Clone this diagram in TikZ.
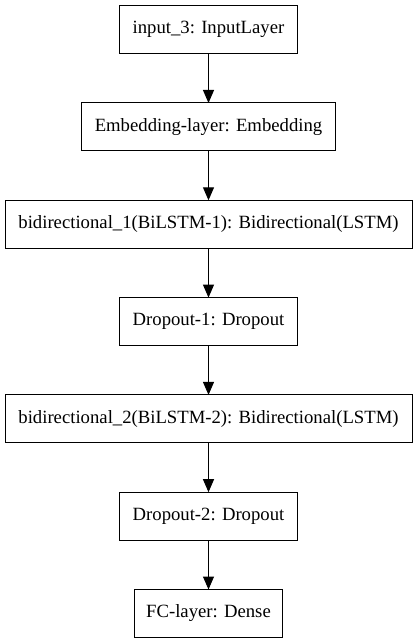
\documentclass[tikz,border=0pt]{standalone}
\usepackage{fontspec}
\setmainfont{Liberation Serif}
\usetikzlibrary{arrows.meta,positioning}
\tikzset{
  layer/.style={draw, rectangle, line width=1pt, minimum height=48pt,
    inner xsep=12pt, outer sep=0pt, font=\fontsize{18.7}{22}\selectfont},
  flow/.style={-{Triangle[width=11pt,length=13pt]}, line width=1pt},
}
\begin{document}
\begin{tikzpicture}[node distance=49.3pt]
  \useasboundingbox (0,0) rectangle (417pt,-644pt);
  \node (input) [layer, minimum width=177.5pt] at (208.5pt,-29.7pt) {input\_3: InputLayer};
  \node (embed) [layer, minimum width=254.7pt, below=of input] {Embedding-layer: Embedding};
  \node (bilstma) [layer, minimum width=407pt, below=of embed] {bidirectional\_1(BiLSTM-1): Bidirectional(LSTM)};
  \node (dropa) [layer, minimum width=178.7pt, below=of bilstma] {Dropout-1: Dropout};
  \node (bilstmb) [layer, minimum width=407pt, below=of dropa] {bidirectional\_2(BiLSTM-2): Bidirectional(LSTM)};
  \node (dropb) [layer, minimum width=178.7pt, below=of bilstmb] {Dropout-2: Dropout};
  \node (fc) [layer, minimum width=147.3pt, below=of dropb] {FC-layer: Dense};
  \draw[flow] (input) to (embed);
  \draw[flow] (embed) to (bilstma);
  \draw[flow] (bilstma) to (dropa);
  \draw[flow] (dropa) to (bilstmb);
  \draw[flow] (bilstmb) to (dropb);
  \draw[flow] (dropb) to (fc);
\end{tikzpicture}
\end{document}
